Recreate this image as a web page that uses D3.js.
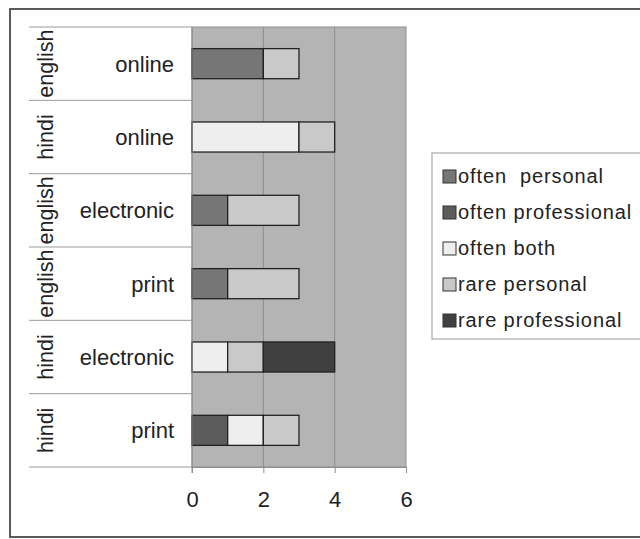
<!DOCTYPE html>
<html><head><meta charset="utf-8">
<script src="https://cdn.jsdelivr.net/npm/d3@7"></script>
<style>
html,body{margin:0;padding:0;background:#fff;}
svg{display:block;font-family:"Liberation Sans",Arial,sans-serif;}
</style></head>
<body>
<svg id="c" width="640" height="539"></svg>
<script>
const outerLabels = ["english","hindi","english","english","hindi","hindi"];
const innerLabels = ["online","online","electronic","print","electronic","print"];
const seriesNames = ["often  personal","often professional","often both","rare personal","rare professional"];
const seriesColors = ["#767676","#5c5c5c","#eeeeee","#c9c9c9","#404040"];
const oftenPersonal = [2,0,1,1,0,0];
const oftenProfessional = [0,0,0,0,0,1];
const oftenBoth = [0,3,0,0,1,1];
const rarePersonal = [1,1,2,2,1,1];
const rareProfessional = [0,0,0,0,2,0];
const xTicks = [0,2,4,6];

const seriesValues = [oftenPersonal,oftenProfessional,oftenBoth,rarePersonal,rareProfessional];
const keys = seriesNames.map((d,i)=>"s"+i);
const rows = innerLabels.map((d,i)=>{
  const r = {id:i};
  keys.forEach((k,j)=>r[k]=seriesValues[j][i]);
  return r;
});
const stacked = d3.stack().keys(keys)(rows);

const svg = d3.select("#c");
const plot = {l:192,r:406,t:27,b:467};

// outer frame
svg.append("rect").attr("x",10).attr("y",9).attr("width",660).attr("height",528)
  .attr("fill","none").attr("stroke","#4a4a4a").attr("stroke-width",1.8);

const x = d3.scaleLinear().domain([0,6]).range([plot.l,plot.r]);
const y = d3.scaleBand().domain(d3.range(rows.length)).range([plot.t,plot.b]).paddingInner(0.59).paddingOuter(0.295);
const yRow = d3.scaleBand().domain(d3.range(rows.length)).range([plot.t,plot.b]);

// plot background
svg.append("rect").attr("x",plot.l).attr("y",plot.t).attr("width",plot.r-plot.l).attr("height",plot.b-plot.t)
  .attr("fill","#b4b4b4").attr("stroke","#8e8e8e").attr("stroke-width",1);

// gridlines
svg.append("g").selectAll("line").data(xTicks.slice(1,-1)).join("line")
  .attr("x1",d=>x(d)).attr("x2",d=>x(d)).attr("y1",plot.t).attr("y2",plot.b)
  .attr("stroke","#8e8e8e").attr("stroke-width",1);

// bars
svg.append("g").selectAll("g").data(stacked).join("g")
  .attr("fill",(d,i)=>seriesColors[i])
  .selectAll("rect").data(d=>d.filter(s=>s[1]-s[0]>0)).join("rect")
  .attr("x",d=>x(d[0])).attr("width",d=>x(d[1])-x(d[0]))
  .attr("y",d=>y(d.data.id)).attr("height",y.bandwidth())
  .attr("stroke","#222").attr("stroke-width",1.3);

// x axis
const xAxis = d3.axisBottom(x).tickValues(xTicks).tickFormat(d3.format("d")).tickSize(6).tickPadding(18);
const gx = svg.append("g").attr("transform",`translate(0,${plot.b})`).call(xAxis);
gx.select(".domain").attr("stroke","#8e8e8e");
gx.selectAll(".tick line").attr("stroke","#8e8e8e");
gx.selectAll(".tick text").attr("font-size",22).attr("fill","#222").attr("font-family","Liberation Sans, Arial, sans-serif");

// category separators
const seps = d3.range(rows.length+1).map(i=> i<rows.length ? yRow(i) : plot.b);
svg.append("g").selectAll("line").data(seps).join("line")
  .attr("x1",29).attr("x2",plot.l).attr("y1",d=>d).attr("y2",d=>d)
  .attr("stroke","#9a9a9a").attr("stroke-width",1);
svg.append("line").attr("x1",plot.l).attr("x2",plot.l).attr("y1",plot.t).attr("y2",plot.b+6)
  .attr("stroke","#8e8e8e");

// inner labels
svg.append("g").selectAll("text").data(innerLabels).join("text")
  .attr("x",174).attr("y",(d,i)=>yRow(i)+yRow.bandwidth()/2).attr("dy","0.36em")
  .attr("text-anchor","end").attr("font-size",22).attr("fill","#222").text(d=>d);

// outer labels (rotated)
svg.append("g").selectAll("text").data(outerLabels).join("text")
  .attr("transform",(d,i)=>`translate(53,${yRow(i)+yRow.bandwidth()/2}) rotate(-90)`)
  .attr("text-anchor","middle").attr("font-size",21.5).attr("fill","#222").text(d=>d);

// legend
const lg = svg.append("g");
lg.append("rect").attr("x",432).attr("y",153).attr("width",240).attr("height",186)
  .attr("fill","#fff").attr("stroke","#aaaaaa").attr("stroke-width",1.2);
const li = lg.selectAll("g").data(seriesNames).join("g")
  .attr("transform",(d,i)=>`translate(443,${183+i*36})`);
li.append("rect").attr("x",0).attr("y",-13).attr("width",13).attr("height",13)
  .attr("fill",(d,i)=>seriesColors[i]).attr("stroke","#333").attr("stroke-width",1);
li.append("text").attr("x",15).attr("y",0).attr("font-size",20).attr("letter-spacing","0.9px")
  .attr("fill","#222").style("white-space","pre").text(d=>d);
</script>
</body></html>
